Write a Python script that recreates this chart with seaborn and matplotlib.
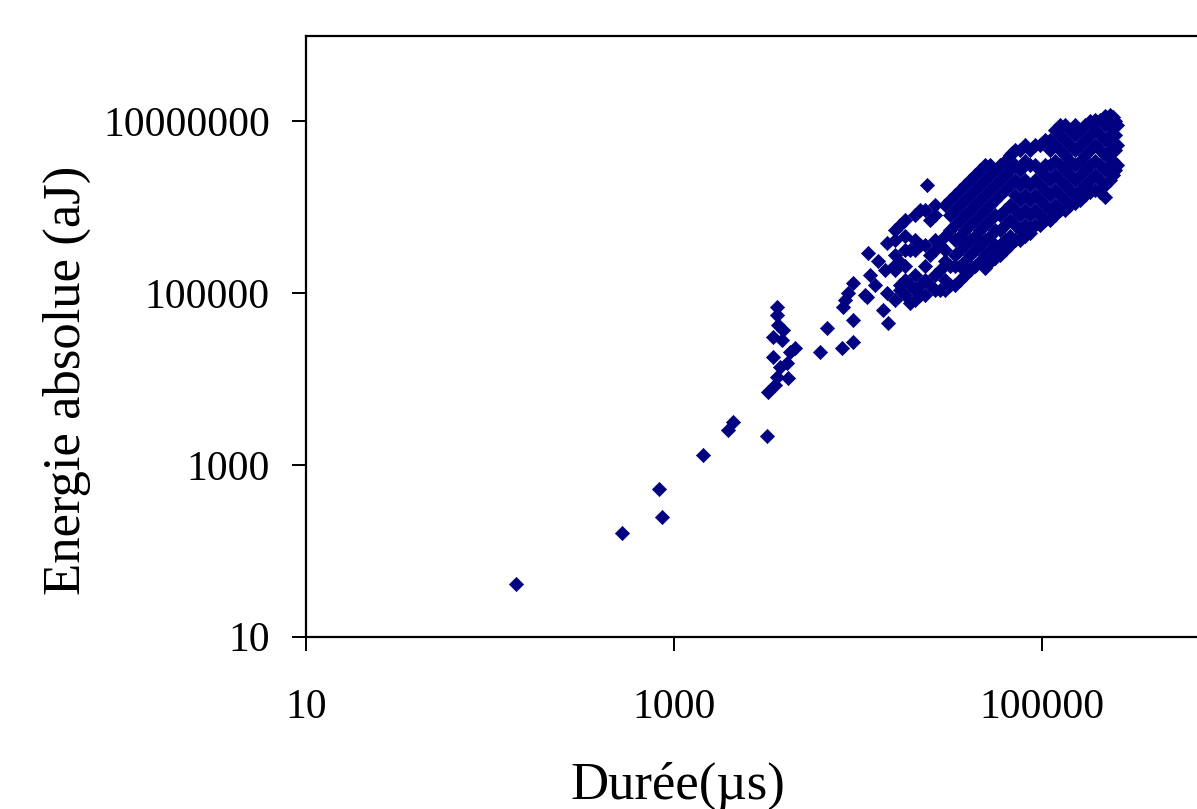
import matplotlib
matplotlib.use("Agg")
import matplotlib.pyplot as plt
import matplotlib.ticker as mticker
import seaborn as sns
import pandas as pd

# ---- data (Durée in µs, Energie absolue in aJ) ----
points_bas = [
    (138, 41), (522, 161), (828, 524), (860, 247), (1429, 1303),
    (1955, 2547), (2080, 3155), (3199, 2167),
]

points_colonne = [
    (3240, 7100), (3540, 8500), (3630, 10500), (4170, 10300), (3770, 13800),
    (4110, 15300), (3450, 18000), (4270, 20700), (4550, 23000), (3860, 28400),
    (3450, 30800), (3910, 37200), (3670, 42600), (3630, 55600), (3630, 68900),
]

points_milieu = [
    (6210, 20700), (6790, 39300), (8190, 23000), (9400, 27000), (8280, 68900),
    (8500, 83000), (8830, 100000), (9400, 131000), (11200, 90000), (9400, 48700),
    (11300, 293000), (14400, 383000), (14000, 186000), (14400, 100000),
    (13700, 63500), (14600, 44900), (16900, 109000), (15500, 201000),
    (10900, 95000), (11600, 163000), (12400, 124000), (12800, 240000),
]

points_amas = [
    (1.59e4, 5.4e5), (1.59e4, 4.2e5), (1.59e4, 2.8e5), (1.59e4, 1.86e5), (1.59e4, 8.3e4),
    (1.69e4, 6.2e5), (1.69e4, 2.3e5), (1.69e4, 1.24e5),
    (1.80e4, 7.1e5), (1.80e4, 4.7e5), (1.80e4, 3.2e5), (1.80e4, 2.1e5), (1.80e4, 1.42e5), (1.80e4, 9.5e4),
    (1.92e4, 3.2e5), (1.92e4, 1.24e5), (1.92e4, 7.6e4),
    (2.04e4, 8.1e5), (2.04e4, 4.2e5), (2.04e4, 3.2e5), (2.04e4, 1.63e5), (2.04e4, 1.09e5), (2.04e4, 8.3e4),
    (2.17e4, 9.3e5), (2.17e4, 3.6e5), (2.17e4, 1.24e5), (2.17e4, 9.5e4),
    (2.31e4, 9.3e5), (2.31e4, 3.6e5), (2.31e4, 2.1e5), (2.31e4, 1.42e5), (2.31e4, 9.5e4),
    (2.37e4, 1.8e6),
    (2.46e4, 7.1e5), (2.46e4, 2.8e5), (2.46e4, 1.24e5),
    (2.62e4, 1.06e6), (2.62e4, 8.1e5), (2.62e4, 4.2e5), (2.62e4, 3.2e5), (2.62e4, 1.63e5), (2.62e4, 1.09e5),
    (2.79e4, 3.6e5), (2.79e4, 1.86e5), (2.79e4, 1.09e5),
    (2.97e4, 1.06e6), (2.97e4, 4.7e5), (2.97e4, 3.2e5), (2.97e4, 2.4e5), (2.97e4, 1.42e5), (2.97e4, 1.09e5),
    (3.16e4, 1.21e6), (3.16e4, 8.1e5), (3.16e4, 5.4e5), (3.16e4, 2.1e5), (3.16e4, 1.24e5),
    (3.37e4, 1.39e6), (3.37e4, 9.3e5), (3.37e4, 6.2e5), (3.37e4, 4.2e5), (3.37e4, 2.8e5), (3.37e4, 2.1e5), (3.37e4, 1.24e5),
    (3.58e4, 1.6e6), (3.58e4, 1.06e6), (3.58e4, 7.1e5), (3.58e4, 4.7e5), (3.58e4, 3.2e5), (3.58e4, 2.1e5), (3.58e4, 1.42e5),
    (3.82e4, 1.8e6), (3.82e4, 1.21e6), (3.82e4, 8.1e5), (3.82e4, 5.4e5), (3.82e4, 3.6e5), (3.82e4, 2.4e5), (3.82e4, 1.63e5),
    (4.06e4, 2.1e6), (4.06e4, 1.39e6), (4.06e4, 9.3e5), (4.06e4, 6.2e5), (4.06e4, 4.2e5), (4.06e4, 2.8e5), (4.06e4, 1.86e5),
    (4.33e4, 2.4e6), (4.33e4, 1.6e6), (4.33e4, 1.06e6), (4.33e4, 7.1e5), (4.33e4, 4.7e5), (4.33e4, 3.2e5), (4.33e4, 2.1e5),
    (4.60e4, 2.7e6), (4.60e4, 1.8e6), (4.60e4, 1.21e6), (4.60e4, 8.1e5), (4.60e4, 5.4e5), (4.60e4, 3.6e5), (4.60e4, 2.4e5),
    (4.90e4, 3.1e6), (4.90e4, 2.1e6), (4.90e4, 1.39e6), (4.90e4, 9.3e5), (4.90e4, 6.2e5), (4.90e4, 4.2e5), (4.90e4, 2.8e5), (4.90e4, 1.96e5),
    (5.21e4, 3.1e6), (5.21e4, 2.4e6), (5.21e4, 1.6e6), (5.21e4, 1.06e6), (5.21e4, 7.1e5), (5.21e4, 4.7e5), (5.21e4, 3.2e5), (5.21e4, 2.3e5),
    (5.56e4, 2.7e6), (5.56e4, 1.8e6), (5.56e4, 1.21e6), (5.56e4, 8.1e5), (5.56e4, 5.4e5), (5.56e4, 3.6e5), (5.56e4, 2.56e5),
    (5.91e4, 3.1e6), (5.91e4, 2.1e6), (5.91e4, 1.39e6), (5.91e4, 8.1e5), (5.91e4, 5.4e5), (5.91e4, 3.6e5), (5.91e4, 2.8e5),
    (6.30e4, 3.5e6), (6.30e4, 2.4e6), (6.30e4, 1.6e6), (6.30e4, 9.3e5), (6.30e4, 6.2e5), (6.30e4, 4.2e5), (6.30e4, 3.2e5),
    (6.70e4, 4.1e6), (6.70e4, 2.7e6), (6.70e4, 1.8e6), (6.70e4, 1.06e6), (6.70e4, 7.1e5), (6.70e4, 4.7e5), (6.70e4, 3.6e5),
    (6.87e4, 4.3e6),
    (7.13e4, 4.6e6), (7.13e4, 3.1e6), (7.13e4, 2.1e6), (7.13e4, 1.39e6), (7.13e4, 9.3e5), (7.13e4, 6.2e5), (7.13e4, 4.2e5),
    (7.59e4, 4.6e6), (7.59e4, 2.7e6), (7.59e4, 1.8e6), (7.59e4, 1.21e6), (7.59e4, 8.1e5), (7.59e4, 5.4e5), (7.59e4, 4.2e5),
    (8.09e4, 5.3e6), (8.09e4, 3.5e6), (8.09e4, 2.1e6), (8.09e4, 1.39e6), (8.09e4, 9.3e5), (8.09e4, 6.2e5), (8.09e4, 4.7e5),
    (8.61e4, 4.6e6), (8.61e4, 3.1e6), (8.61e4, 1.8e6), (8.61e4, 1.21e6), (8.61e4, 8.1e5), (8.61e4, 5.7e5), (8.61e4, 5.0e5),
    (9.16e4, 5.3e6), (9.16e4, 3.1e6), (9.16e4, 2.1e6), (9.16e4, 1.39e6), (9.16e4, 9.3e5), (9.16e4, 6.2e5),
    (9.75e4, 5.3e6), (9.75e4, 2.7e6), (9.75e4, 1.8e6), (9.75e4, 1.21e6), (9.75e4, 8.1e5), (9.75e4, 6.2e5),
    (1.04e5, 6.1e6), (1.04e5, 3.1e6), (1.04e5, 2.4e6), (1.04e5, 1.6e6), (1.04e5, 1.06e6), (1.04e5, 7.1e5),
    (1.10e5, 6.1e6), (1.10e5, 4.6e6), (1.10e5, 3.1e6), (1.10e5, 2.1e6), (1.10e5, 1.39e6), (1.10e5, 9.3e5), (1.10e5, 7.1e5),
    (1.18e5, 7.9e6), (1.18e5, 5.3e6), (1.18e5, 3.5e6), (1.18e5, 2.4e6), (1.18e5, 1.6e6), (1.18e5, 1.06e6), (1.18e5, 8.1e5),
    (1.25e5, 9.1e6), (1.25e5, 6.9e6), (1.25e5, 4.6e6), (1.25e5, 3.1e6), (1.25e5, 2.1e6), (1.25e5, 1.39e6), (1.25e5, 9.3e5),
    (1.33e5, 9.1e6), (1.33e5, 6.1e6), (1.33e5, 4.1e6), (1.33e5, 2.7e6), (1.33e5, 1.8e6), (1.33e5, 1.21e6), (1.33e5, 9.3e5),
    (1.42e5, 7.9e6), (1.42e5, 5.3e6), (1.42e5, 3.5e6), (1.42e5, 2.4e6), (1.42e5, 1.6e6), (1.42e5, 1.06e6),
    (1.51e5, 9.1e6), (1.51e5, 6.9e6), (1.51e5, 4.6e6), (1.51e5, 3.1e6), (1.51e5, 2.1e6), (1.51e5, 1.39e6), (1.51e5, 1.12e6),
    (1.61e5, 7.9e6), (1.61e5, 5.3e6), (1.61e5, 3.5e6), (1.61e5, 2.4e6), (1.61e5, 1.6e6), (1.61e5, 1.21e6),
    (1.71e5, 9.1e6), (1.71e5, 6.1e6), (1.71e5, 4.1e6), (1.71e5, 2.7e6), (1.71e5, 1.8e6), (1.71e5, 1.39e6),
    (1.82e5, 1.0e7), (1.82e5, 6.9e6), (1.82e5, 4.6e6), (1.82e5, 3.1e6), (1.82e5, 2.1e6), (1.82e5, 1.5e6),
    (1.94e5, 1.05e7), (1.94e5, 7.9e6), (1.94e5, 5.3e6), (1.94e5, 3.5e6), (1.94e5, 2.4e6), (1.94e5, 1.6e6),
    (2.07e5, 1.05e7), (2.07e5, 6.9e6), (2.07e5, 4.6e6), (2.07e5, 3.1e6), (2.07e5, 2.1e6), (2.07e5, 1.5e6),
    (2.20e5, 1.15e7), (2.20e5, 9.1e6), (2.20e5, 6.1e6), (2.20e5, 4.1e6), (2.20e5, 2.7e6), (2.20e5, 1.8e6), (2.20e5, 1.31e6),
    (2.34e5, 1.2e7), (2.34e5, 9.5e6), (2.34e5, 6.9e6), (2.34e5, 4.6e6), (2.34e5, 3.1e6), (2.34e5, 2.1e6),
    (2.43e5, 1.12e7), (2.43e5, 8.4e6), (2.43e5, 5.3e6), (2.43e5, 3.5e6), (2.43e5, 2.4e6),
    (2.50e5, 1.0e7), (2.50e5, 6.9e6), (2.50e5, 4.6e6), (2.50e5, 2.7e6),
    (2.55e5, 9.1e6), (2.55e5, 5.3e6), (2.55e5, 3.1e6),
]

x_ticks = [10, 1000, 100000]
x_tick_labels = ["10", "1000", "100000"]
y_ticks = [10, 1000, 100000, 10000000]
y_tick_labels = ["10", "1000", "100000", "10000000"]

x_label = "Durée(µs)"
y_label = "Energie absolue (aJ)"

# ---- build table ----
all_points = points_bas + points_colonne + points_milieu + points_amas
df = pd.DataFrame(all_points, columns=["duree", "energie"])

# ---- style ----
sns.set_style("white")
plt.rcParams["font.family"] = ["Liberation Serif", "DejaVu Serif"]

W, H = 1197, 809
fig = plt.figure(figsize=(W / 100, H / 100), dpi=100)
fig.patch.set_facecolor("white")

# axes placed so that the frame matches the reference (right side cropped)
left_px, bottom_px, top_px = 306, 636.7, 35.6
width_px = 1104
ax = fig.add_axes([left_px / W, 1 - bottom_px / H, width_px / W, (bottom_px - top_px) / H])
ax.set_xscale("log")
ax.set_yscale("log")

sns.scatterplot(
    data=df, x="duree", y="energie", ax=ax,
    marker="D", s=52, color="#000080", edgecolor="#000080", linewidth=0.5,
    legend=False,
)

ax.set_xlim(10, 1e7)
ax.set_ylim(10, 1e8)

ax.xaxis.set_major_locator(mticker.FixedLocator(x_ticks))
ax.xaxis.set_minor_locator(mticker.NullLocator())
ax.xaxis.set_major_formatter(mticker.FixedFormatter(x_tick_labels))
ax.yaxis.set_major_locator(mticker.FixedLocator(y_ticks))
ax.yaxis.set_minor_locator(mticker.NullLocator())
ax.yaxis.set_major_formatter(mticker.FixedFormatter(y_tick_labels))

for sp in ax.spines.values():
    sp.set_color("black")
    sp.set_linewidth(1.6)

ax.tick_params(axis="both", which="major", direction="out", length=10,
               width=1.4, color="black", labelsize=30, labelcolor="black",
               bottom=True, left=True, top=False, right=False)
ax.tick_params(axis="y", pad=16)
ax.tick_params(axis="x", pad=27)
ax.grid(False)

ax.set_xlabel(x_label, fontsize=38, color="black", va="center")
ax.set_ylabel(y_label, fontsize=38, color="black", va="center")
ax.xaxis.set_label_coords((678 - left_px) / width_px, (bottom_px - 786) / (bottom_px - top_px))
ax.yaxis.set_label_coords((67 - left_px) / width_px, (bottom_px - 380) / (bottom_px - top_px))

fig.savefig("out.png", dpi=100, facecolor="white")
